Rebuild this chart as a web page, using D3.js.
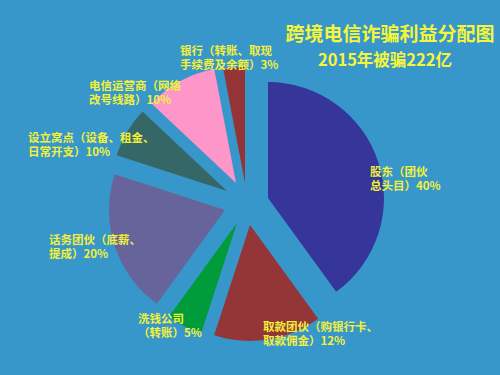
<!DOCTYPE html>
<html>
<head>
<meta charset="utf-8">
<script src="https://cdn.jsdelivr.net/npm/d3@7"></script>
<style>
  html, body { margin: 0; padding: 0; background: #3797ca; }
  svg { display: block; }
  text { font-family: "Noto Sans CJK SC", "Noto Sans", sans-serif; font-weight: bold; }
</style>
</head>
<body>
<svg id="chart" width="500" height="375"></svg>
<script>
// Slices, clockwise from 12 o'clock
categories = ["股东", "取款团伙", "洗钱公司", "话务团伙", "设立窝点", "电信运营商", "银行"]
shares = [40, 15, 5, 20, 7, 10, 3]   // slice sizes as drawn
percentLabels = ["40%", "12%", "5%", "20%", "10%", "10%", "3%"]
labelLines = [
  ["股东（团伙", "总头目）40%"],
  ["取款团伙（购银行卡、", "取款佣金）12%"],
  ["洗钱公司", "（转账）5%"],
  ["话务团伙（底薪、", "提成）20%"],
  ["设立窝点（设备、租金、", "日常开支）10%"],
  ["电信运营商（网络", "改号线路）10%"],
  ["银行（转账、取现", "手续费及余额）3%"]
]
titleLines = ["跨境电信诈骗利益分配图", "2015年被骗222亿"]

var colors = ['#35359a', '#943538', '#009b3a', '#67649b', '#366767', '#fe96c9', '#943436'];

// each slice is pulled out by its own amount
var explode = [[28, -2], [10, 25], [-3, 23], [-15, 10], [-13, -9], [-4, -17], [5, -17]];
var labelPos = [[370, 176], [263, 331], [138, 323], [49, 244], [28, 142], [89, 90], [180, 55]];

var cx = 240, cy = 200, radius = 116;

var svg = d3.select('#chart');

svg.append('rect')
  .attr('width', 500).attr('height', 375)
  .attr('fill', '#3797ca');

var pie = d3.pie()
  .sort(null)
  .value(function(d) { return d; });

var arc = d3.arc()
  .innerRadius(0)
  .outerRadius(radius);

svg.append('g')
  .attr('transform', 'translate(' + cx + ',' + cy + ')')
  .selectAll('path')
  .data(pie(shares))
  .enter()
  .append('path')
  .attr('d', arc)
  .attr('fill', function(d, i) { return colors[i]; })
  .attr('transform', function(d, i) { return 'translate(' + explode[i][0] + ',' + explode[i][1] + ')'; });

// slice labels
labelLines.forEach(function(lines, i) {
  var t = svg.append('text')
    .attr('x', labelPos[i][0])
    .attr('y', labelPos[i][1])
    .attr('fill', '#f2f03a')
    .style('font-size', '11.5px');
  lines.forEach(function(line, j) {
    t.append('tspan')
      .attr('x', labelPos[i][0])
      .attr('dy', j == 0 ? 0 : 14)
      .text(line);
  });
});

// title
svg.append('text')
  .attr('x', 390).attr('y', 41)
  .attr('text-anchor', 'middle')
  .attr('fill', '#f5f53a')
  .style('font-size', '19px')
  .text(titleLines[0]);

svg.append('text')
  .attr('x', 385).attr('y', 66)
  .attr('text-anchor', 'middle')
  .attr('fill', '#f5f53a')
  .style('font-size', '16.5px')
  .text(titleLines[1]);
</script>
</body>
</html>
